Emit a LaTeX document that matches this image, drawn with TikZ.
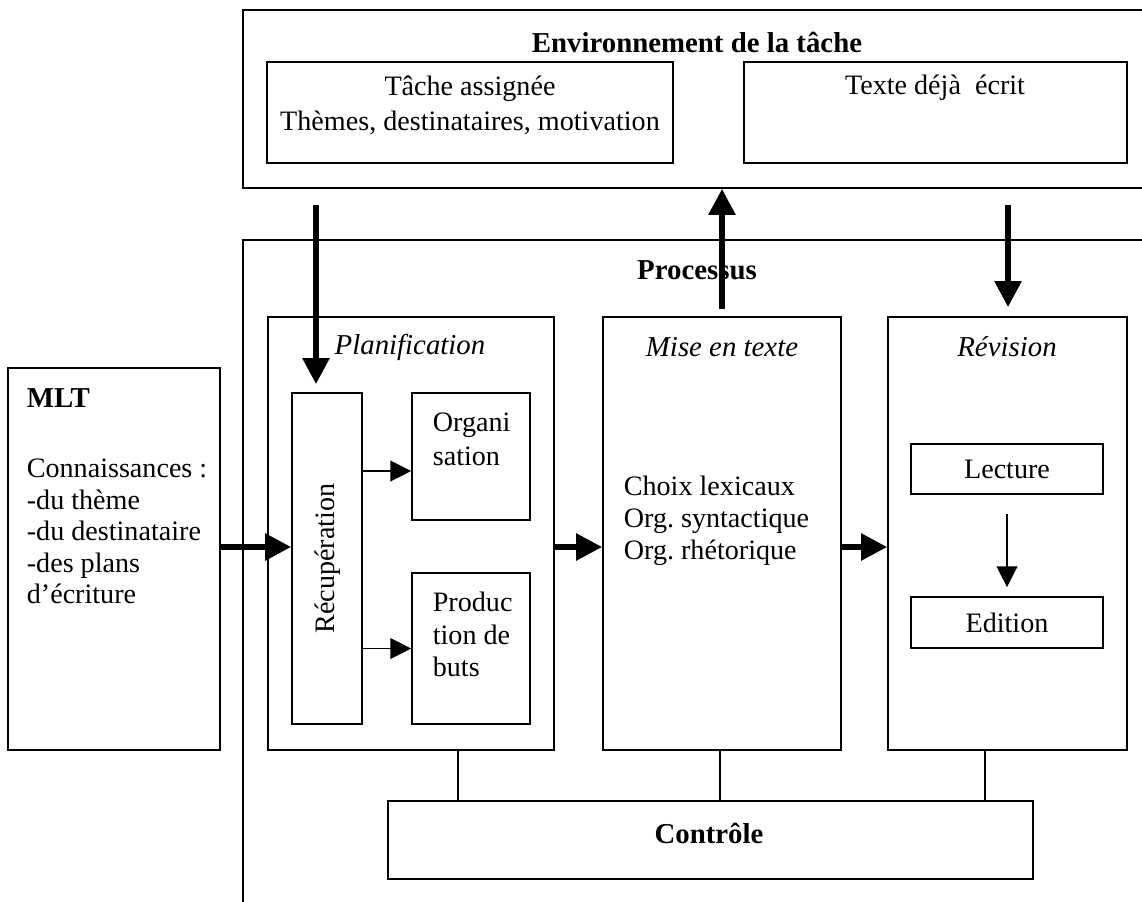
\documentclass[tikz,border=0pt]{standalone}
\usepackage{fontspec}
\setmainfont{Liberation Serif}
\frenchspacing
\usetikzlibrary{arrows.meta}
\tikzstyle{scheme}=[x=0.025cm, y=-0.025cm, line width=1.2pt, font=\fontsize{20}{23}\selectfont]
\tikzstyle{box}=[rectangle, draw, inner sep=0pt]
\tikzstyle{head}=[inner sep=0pt, font=\fontsize{20.5}{23}\selectfont\bfseries]
\tikzstyle{phase}=[inner sep=0pt, font=\fontsize{20.5}{23}\selectfont\itshape]
\tikzstyle{lines}=[inner sep=0pt, align=left, anchor=west]
\tikzstyle{bigedge}=[line width=4pt, -{Triangle[length=6.5mm, width=6.5mm]}]
\tikzstyle{edge}=[line width=1pt, -{Triangle[length=5.2mm, width=5.2mm]}]
\tikzstyle{link}=[-, line width=1pt]
\newcommand{\flowY}{547}
\newcommand{\phaseY}{347}
\newcommand{\phaseH}{10.825cm}

\begin{document}
\begin{tikzpicture}[scheme]
	\path[use as bounding box] (0,0) rectangle (1142,901);
	\clip (0,0) rectangle (1142,901);

	%The task environment
	\draw (706.5,99) node[box, minimum width=23.175cm, minimum height=4.45cm] (env) {};
	\node[head] at (697,42) (envtitle) {Environnement de la tâche};
	\draw (470,112.5) node[box, minimum width=10.15cm, minimum height=2.525cm] (task) {};
	\node[inner sep=0pt, align=center, font=\fontsize{20}{24.8}\selectfont] at (470,105.5) (tasktext) {Tâche assignée\\Thèmes, destinataires, motivation};
	\draw (935.5,112.5) node[box, minimum width=9.575cm, minimum height=2.525cm] (written) {};
	\node[inner sep=0pt] at (935,88) (writtentext) {Texte déjà~ écrit};

	%The process frame
	\draw (706.5,580) node[box, minimum width=23.175cm, minimum height=17cm] (proc) {};
	\node[head] at (697,270) (proctitle) {Processus};

	%The long term memory
	\draw (114,559) node[box, minimum width=5.3cm, minimum height=9.55cm] (mlt) {};
	\node[head, anchor=west] at (26,398) (mlttitle) {MLT};
	\node[lines, font=\fontsize{20}{22.5}\selectfont] at (26,531.5) (mlttext) {Connaissances :\\-du thème\\-du destinataire\\-des plans\\d’écriture};

	%Planification
	\draw (411,533.5) node[box, minimum width=7.15cm, minimum height=\phaseH] (plan) {};
	\node[phase] at (410,\phaseY) (plantitle) {Planification};
	\draw (327,558.5) node[box, minimum width=1.75cm, minimum height=8.275cm] (recup) {};
	\node[inner sep=0pt, rotate=90] at (328,558.5) (recuptext) {Récupération};
	\draw (471,456.5) node[box, minimum width=2.95cm, minimum height=3.175cm] (orga) {};
	\node[lines, font=\fontsize{20}{24}\selectfont] at (432,439) (orgatext) {Organi\\sation};
	\draw (471,648.5) node[box, minimum width=2.95cm, minimum height=3.775cm] (prod) {};
	\node[lines, font=\fontsize{20}{23}\selectfont] at (432,634.5) (prodtext) {Produc\\tion de\\buts};

	%Mise en texte
	\draw (722,533.5) node[box, minimum width=5.95cm, minimum height=\phaseH] (mise) {};
	\node[phase] at (722,\phaseY) (misetitle) {Mise en texte};
	\node[lines, font=\fontsize{20}{22.7}\selectfont] at (623,521) (misetext) {Choix lexicaux\\Org. syntactique\\Org. rhétorique};

	%Revision
	\draw (1007.5,533.5) node[box, minimum width=5.975cm, minimum height=\phaseH] (rev) {};
	\node[phase] at (1007,\phaseY) (revtitle) {Révision};
	\draw (1007,469) node[box, minimum width=4.8cm, minimum height=1.25cm] (lect) {Lecture};
	\draw (1007,622.5) node[box, minimum width=4.8cm, minimum height=1.275cm] (edit) {Edition};

	%The control
	\draw (710.5,840) node[box, minimum width=16.125cm, minimum height=1.95cm] (ctrl) {};
	\node[head] at (709,833) (ctrltext) {Contrôle};

	%The arrows between environment and process
	\coordinate (inL) at (316,205);
	\coordinate (inR) at (1008,205);
	\draw[bigedge, shorten >=2mm] (inL) -- (inL |- recup.north);
	\draw[bigedge, shorten <=1.75mm] (mise.north) -- (mise.north |- env.south);
	\draw[bigedge, shorten >=2.25mm] (inR) -- (inR |- rev.north);

	%The main flow
	\coordinate (flow) at (0,\flowY);
	\draw[bigedge] (mlt.east |- flow) -- (recup.west |- flow);
	\draw[bigedge] (plan.east |- flow) -- (mise.west |- flow);
	\draw[bigedge] (mise.east |- flow) -- (rev.west |- flow);

	%Inside the phases
	\coordinate (toOrga) at (0,471);
	\draw[edge] (recup.east |- toOrga) -- (orga.west |- toOrga);
	\draw[edge] (recup.east |- prod) -- (prod.west);
	\draw[edge, shorten <=4.75mm, shorten >=2.25mm] (lect.south) -- (edit.north);

	%The links to the control
	\foreach \n/\x in {plan/458, mise/720, rev/985} {
		\coordinate (c\n) at (\x,0);
		\draw[link] (\n.south -| c\n) -- (ctrl.north -| c\n);
	}
\end{tikzpicture}
\end{document}
